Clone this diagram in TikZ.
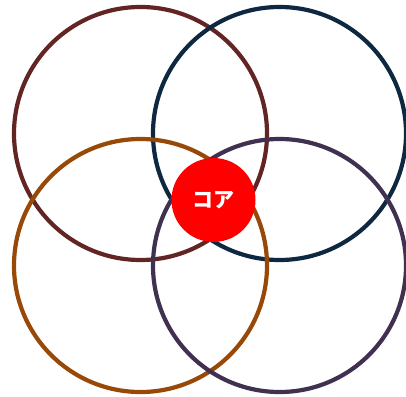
\documentclass[tikz,border=0pt]{standalone}
\usepackage{fontspec}
\newfontfamily\cjk{Noto Sans CJK JP}
\definecolor{cA}{HTML}{632523}
\definecolor{cB}{HTML}{0E2841}
\definecolor{cC}{HTML}{984807}
\definecolor{cD}{HTML}{403151}
\tikzset{ring/.style={draw, line width=4.2pt, circle, minimum size=253pt, inner sep=0pt}}
\begin{document}
\begin{tikzpicture}[x=1pt,y=-1pt]
\useasboundingbox (0,0) rectangle (406,396);
\node[ring, draw=cA] (tl) at (140.5,133.5) {};
\node[ring, draw=cB] (tr) at (279.5,133.5) {};
\node[ring, draw=cC] (bl) at (140.5,265.5) {};
\node[ring, draw=cD] (br) at (279.5,265.5) {};
\node[circle, fill=red, minimum size=84pt, inner sep=0pt, text=white, font=\cjk\bfseries\fontsize{21}{24}\selectfont] (core) at (213.5,200) {コア};
\end{tikzpicture}
\end{document}
